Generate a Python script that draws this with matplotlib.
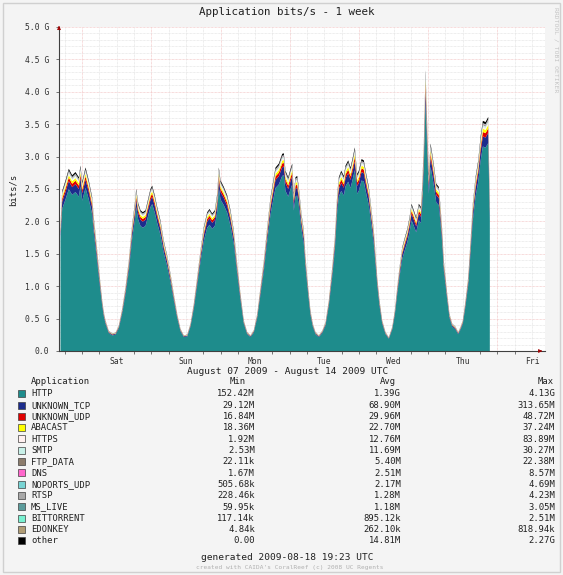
import matplotlib
matplotlib.use("Agg")
import matplotlib.pyplot as plt
import numpy as np

# ---------------- data ----------------
# hours since the start of the graph (Fri 16:00 UTC); total stacked bits/s in G
hours = [0.35, 0.94, 2.08, 3.22, 4.40, 5.55, 6.69, 7.28, 7.87, 9.02, 9.60, 10.16,
         11.34, 11.89, 12.48, 13.07, 13.63, 14.22, 14.81, 15.36, 15.95, 17.09, 18.27,
         19.42, 20.56, 21.74, 22.88, 24.03, 25.21, 26.11, 26.60, 27.29, 28.09, 28.88,
         29.82, 30.76, 31.55, 32.14, 33.04, 33.88, 35.02, 36.16, 37.34, 38.49, 39.63,
         40.81, 41.96, 43.10, 44.28, 45.42, 46.57, 47.75, 48.89, 50.03, 51.21, 52.01,
         52.95, 53.85, 54.68, 55.24, 55.83, 56.97, 58.15, 59.29, 60.44, 61.62, 62.76,
         63.90, 65.08, 66.23, 67.37, 68.55, 69.69, 70.84, 72.02, 73.16, 74.31, 74.90,
         76.04, 77.22, 77.77, 78.36, 79.30, 80.10, 80.69, 81.24, 81.83, 82.42, 82.97,
         83.91, 84.71, 85.30, 85.89, 86.44, 87.03, 87.83, 88.77, 89.91, 91.09, 92.23,
         93.38, 94.56, 95.46, 96.29, 96.85, 97.68, 98.58, 99.17, 100.10, 100.90,
         101.70, 102.39, 103.22, 103.78, 104.72, 105.51, 106.35, 107.25, 108.18,
         108.98, 109.57, 110.16, 110.96, 111.89, 113.04, 114.18, 115.36, 116.26,
         117.09, 117.89, 118.83, 119.73, 120.56, 121.36, 122.05, 122.85, 123.68,
         124.58, 125.28, 125.76, 126.32, 126.91, 127.50, 128.05, 128.64, 129.23,
         129.92, 130.62, 131.52, 132.11, 132.70, 133.25, 133.84, 134.43, 135.23,
         136.16, 137.31, 138.25, 139.04, 139.84, 140.78, 141.71, 142.51, 143.31,
         144.24, 145.18, 145.98, 146.78, 147.71, 148.65, 149.20]
total_g = [1.95, 2.48, 2.64, 2.82, 2.72, 2.77, 2.69, 2.87, 2.62, 2.84, 2.74, 2.64,
           2.38, 2.07, 1.82, 1.56, 1.30, 1.04, 0.79, 0.61, 0.48, 0.32, 0.28,
           0.29, 0.40, 0.66, 0.99, 1.40, 1.97, 2.28, 2.51, 2.29, 2.18, 2.15,
           2.18, 2.36, 2.51, 2.56, 2.41, 2.23, 2.02, 1.71, 1.48, 1.20, 0.89,
           0.58, 0.35, 0.25, 0.26, 0.43, 0.74, 1.15, 1.56, 1.92, 2.15, 2.20,
           2.13, 2.18, 2.43, 2.84, 2.64, 2.54, 2.41, 2.18, 1.87, 1.35, 0.89,
           0.48, 0.30, 0.25, 0.33, 0.58, 0.99, 1.40, 1.92, 2.38, 2.69, 2.84,
           2.90, 3.05, 3.06, 2.79, 2.69, 2.82, 2.90, 2.45, 2.69, 2.71, 2.54,
           2.12, 1.87, 1.46, 1.15, 0.89, 0.63, 0.43, 0.30, 0.25, 0.32, 0.45,
           0.79, 1.30, 1.76, 2.43, 2.69, 2.79, 2.71, 2.87, 2.95, 2.84,
           3.00, 3.15, 2.74, 2.79, 2.97, 2.95, 2.74, 2.54, 2.18,
           1.87, 1.51, 1.15, 0.79, 0.48, 0.30, 0.22, 0.38, 0.63,
           0.99, 1.30, 1.61, 1.76, 1.89, 2.07, 2.28, 2.18, 2.07,
           2.28, 2.23, 2.54, 3.21, 4.34, 3.46, 2.74, 3.21, 3.05,
           2.84, 2.59, 2.54, 2.23, 1.87, 1.40, 1.15, 0.89, 0.58,
           0.43, 0.38, 0.30, 0.38, 0.48, 0.79, 1.15, 1.71, 2.28,
           2.69, 2.95, 3.31, 3.56, 3.54, 3.62, 2.28]

applications = ["HTTP", "UNKNOWN_TCP", "UNKNOWN_UDP", "ABACAST", "HTTPS", "SMTP",
                "FTP_DATA", "DNS", "NOPORTS_UDP", "RTSP", "MS_LIVE", "BITTORRENT",
                "EDONKEY", "other"]
avg_mbps = [1390.0, 68.90, 29.96, 22.70, 12.76, 11.69, 5.40, 2.51, 2.17, 1.28,
            1.18, 0.89512, 0.26210, 14.81]
min_labels = ["152.42M", "29.12M", "16.84M", "18.36M", "1.92M", "2.53M", "22.11k",
              "1.67M", "505.68k", "228.46k", "59.95k", "117.14k", "4.84k", "0.00"]
avg_labels = ["1.39G", "68.90M", "29.96M", "22.70M", "12.76M", "11.69M", "5.40M",
              "2.51M", "2.17M", "1.28M", "1.18M", "895.12k", "262.10k", "14.81M"]
max_labels = ["4.13G", "313.65M", "48.72M", "37.24M", "83.89M", "30.27M", "22.38M",
              "8.57M", "4.69M", "4.23M", "3.05M", "2.51M", "818.94k", "2.27G"]
colors = ["#1e8c8c", "#1c2c8c", "#e00000", "#ffff00", "#fff0f0", "#c8f0e8",
          "#8c7c6c", "#ff66cc", "#78d4d4", "#a8a8a8", "#5c9c9c", "#78f0d0",
          "#b09c74", "#000000"]

day_labels = ["Sat", "Sun", "Mon", "Tue", "Wed", "Thu", "Fri"]
day_label_hours = [20, 44, 68, 92, 116, 140, 164]
midnight_hours = [8, 32, 56, 80, 104, 128, 152]
y_ticks = [0.0, 0.5, 1.0, 1.5, 2.0, 2.5, 3.0, 3.5, 4.0, 4.5, 5.0]
y_tick_labels = ["0.0", "0.5 G", "1.0 G", "1.5 G", "2.0 G", "2.5 G", "3.0 G",
                 "3.5 G", "4.0 G", "4.5 G", "5.0 G"]

# ---------------- figure ----------------
W, H = 563, 575
fig = plt.figure(figsize=(W / 100, H / 100), dpi=100)
fig.patch.set_facecolor("#f4f4f4")
mono = "DejaVu Sans Mono"

def fx(px):
    return px / W

def fy(py):
    return 1 - py / H

ax = fig.add_axes([fx(59), fy(351), fx(545) - fx(59), fy(27) - fy(351)])
ax.set_facecolor("white")
ax.set_xlim(0, 168.5)
ax.set_ylim(0, 5.0)

# grid
for v in np.arange(0.1, 5.01, 0.1):
    if abs(round(v * 2) - v * 2) < 1e-6:
        ax.axhline(v, color="#f0b8b8", lw=0.5, ls=(0, (1, 1)), zorder=0)
    else:
        ax.axhline(v, color="#dcdcdc", lw=0.5, ls=(0, (1, 1)), zorder=0)
for h in np.arange(2, 168.1, 6):
    if any(abs(h - m) < 1e-6 for m in midnight_hours):
        ax.axvline(h, color="#f0b8b8", lw=0.5, ls=(0, (1, 1)), zorder=0)
    else:
        ax.axvline(h, color="#dcdcdc", lw=0.5, ls=(0, (1, 1)), zorder=0)

# stacked areas
hrs = np.array(hours)
tot = np.array(total_g)
share = np.array(avg_mbps) / np.sum(avg_mbps)
base = np.zeros_like(tot)
for i, name in enumerate(applications):
    layer = tot * share[i]
    ax.fill_between(hrs, base, base + layer, color=colors[i], lw=0, zorder=2)
    base = base + layer

# axes styling
for s in ["top", "right"]:
    ax.spines[s].set_visible(False)
ax.spines["left"].set_color("#404040")
ax.spines["bottom"].set_color("#404040")
ax.spines["left"].set_linewidth(0.8)
ax.spines["bottom"].set_linewidth(0.8)
ax.annotate("", xy=(1.0, 0), xytext=(0.985, 0), xycoords="axes fraction",
            arrowprops=dict(arrowstyle="-|>", color="#a00000", lw=0.6, mutation_scale=5))
ax.annotate("", xy=(0, 1.012), xytext=(0, 0.99), xycoords="axes fraction",
            arrowprops=dict(arrowstyle="-|>", color="#a00000", lw=0.6, mutation_scale=5),
            annotation_clip=False)

ax.set_yticks(y_ticks)
ax.set_yticklabels(y_tick_labels, fontfamily=mono, fontsize=5.8, color="#303030")
ax.tick_params(axis="y", length=2, width=0.5, pad=5, color="#404040")
ax.set_xticks(day_label_hours)
ax.set_xticklabels(day_labels, fontfamily=mono, fontsize=5.8, color="#303030")
ax.tick_params(axis="x", length=0, pad=4)
ax.set_xticks(np.arange(2, 168.1, 6), minor=True)
ax.tick_params(axis="x", which="minor", length=2, width=0.5, color="#404040")

# texts
fig.text(fx(287), fy(12), "Application bits/s - 1 week", ha="center", va="center",
         fontfamily=mono, fontsize=7.8, color="#202020")
fig.text(fx(13), fy(190), "bits/s", ha="center", va="center", rotation=90,
         fontfamily=mono, fontsize=6.4, color="#202020")
fig.text(fx(288), fy(371), "August 07 2009 - August 14 2009 UTC", ha="center",
         va="center", fontfamily=mono, fontsize=6.8, color="#202020")
fig.text(fx(556), fy(50), "RRDTOOL / TOBI OETIKER", ha="center", va="center",
         rotation=-90, fontfamily=mono, fontsize=4.6, color="#c4c4c4")

# legend table
fs = 6.4
fig.text(fx(31), fy(382), "Application", ha="left", va="center", fontfamily=mono,
         fontsize=fs, color="#202020")
fig.text(fx(238), fy(382), "Min", ha="center", va="center", fontfamily=mono,
         fontsize=fs, color="#202020")
fig.text(fx(388), fy(382), "Avg", ha="center", va="center", fontfamily=mono,
         fontsize=fs, color="#202020")
fig.text(fx(554), fy(382), "Max", ha="right", va="center", fontfamily=mono,
         fontsize=fs, color="#202020")
for i, name in enumerate(applications):
    yy = 394 + i * 11.3
    fig.patches.append(plt.Rectangle((fx(18), fy(yy + 3.2)), fx(7), fy(0) - fy(7),
                                     transform=fig.transFigure, facecolor=colors[i],
                                     edgecolor="#404040", lw=0.5))
    fig.text(fx(31), fy(yy), name, ha="left", va="center", fontfamily=mono,
             fontsize=fs, color="#202020")
    fig.text(fx(255), fy(yy), min_labels[i], ha="right", va="center",
             fontfamily=mono, fontsize=fs, color="#202020")
    fig.text(fx(401), fy(yy), avg_labels[i], ha="right", va="center",
             fontfamily=mono, fontsize=fs, color="#202020")
    fig.text(fx(555), fy(yy), max_labels[i], ha="right", va="center",
             fontfamily=mono, fontsize=fs, color="#202020")

fig.text(fx(287), fy(557), "generated 2009-08-18 19:23 UTC", ha="center",
         va="center", fontfamily=mono, fontsize=6.8, color="#202020")
fig.text(fx(290), fy(568), "created with CAIDA's CoralReef (c) 2008 UC Regents",
         ha="center", va="center", fontfamily=mono, fontsize=4.4, color="#b0b0b0")

# outer frame
fig.patches.append(plt.Rectangle((fx(3), fy(572)), fx(557), fy(0) - fy(569),
                                 transform=fig.transFigure, facecolor="none",
                                 edgecolor="#d0d0d0", lw=1.0))

fig.savefig("out.png", dpi=100, facecolor=fig.get_facecolor())
